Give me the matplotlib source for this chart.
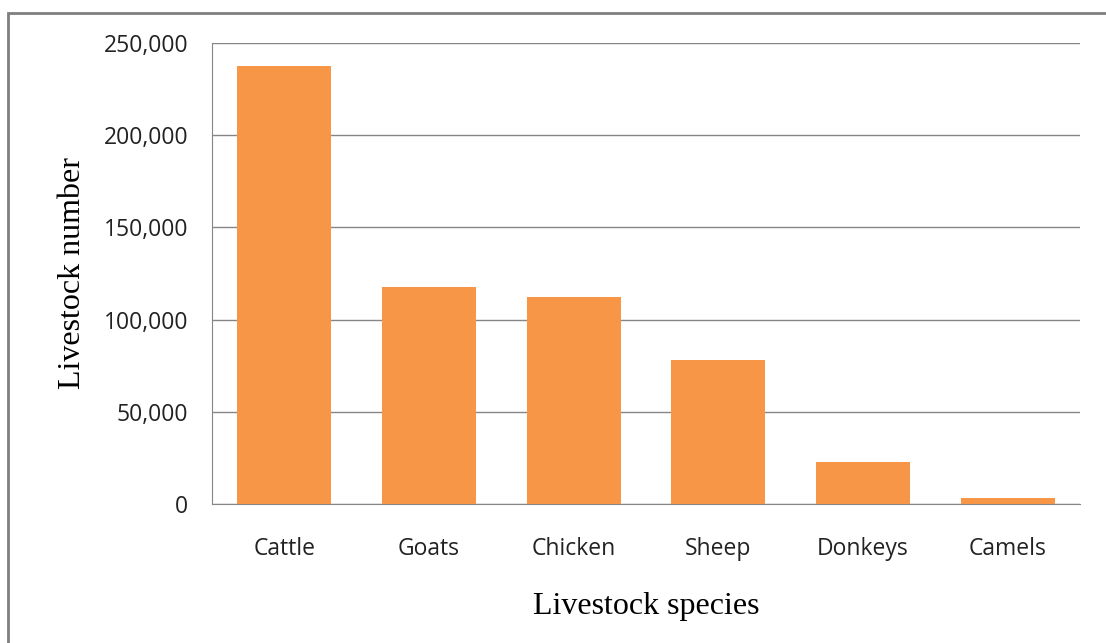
import matplotlib.pyplot as plt
from matplotlib.patches import Rectangle
from matplotlib.ticker import FuncFormatter

species = ["Cattle", "Goats", "Chicken", "Sheep", "Donkeys", "Camels"]
counts = [237500, 117800, 112300, 78200, 22800, 3200]
yticks = [0, 50000, 100000, 150000, 200000, 250000]

fig = plt.figure(figsize=(11.06, 6.43), dpi=100)
ax = fig.add_axes([0.1917, 0.2162, 0.7848, 0.7169])

ax.bar(range(len(species)), counts, width=0.65, color="#F79646", zorder=3)
ax.set_xlim(-0.5, len(species) - 0.5)
ax.set_ylim(0, 250000)
ax.set_yticks(yticks)
ax.yaxis.set_major_formatter(FuncFormatter(lambda v, p: f"{int(v):,}"))
ax.set_xticks(range(len(species)))
ax.set_xticklabels(species)
ax.grid(axis="y", color="#868686", linewidth=1, zorder=0)
ax.tick_params(length=0, labelsize=16.5, colors="#222222")
ax.tick_params(axis="x", pad=24)
ax.tick_params(axis="y", pad=17)
for lbl in ax.get_xticklabels() + ax.get_yticklabels():
    lbl.set_fontfamily("Open Sans")

for side in ["top", "right"]:
    ax.spines[side].set_visible(False)
ax.spines["left"].set_color("#868686")
ax.spines["bottom"].set_color("#868686")

ax.set_xlabel("Livestock species", fontsize=23, family="Liberation Serif", labelpad=22)
ax.set_ylabel("Livestock number", fontsize=23, family="Liberation Serif", labelpad=12)

fig.patches.append(Rectangle((8 / 1106, -0.01), 1.2, (643 - 13) / 643 + 0.01,
                             transform=fig.transFigure, fill=False,
                             edgecolor="#7f7f7f", linewidth=2))

fig.savefig("out.png", dpi=100)
